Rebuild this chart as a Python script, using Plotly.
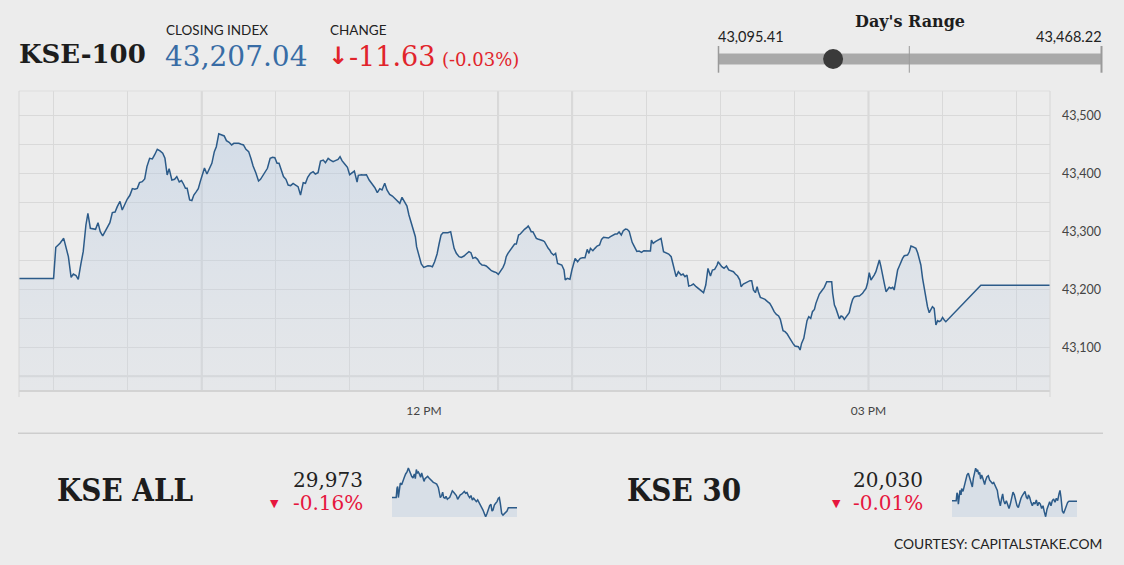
import datetime as dt
import plotly.graph_objects as go

W, H = 1124, 565
OPEN = dt.datetime(2019, 9, 18, 9, 30)   # session open (date not shown on chart)

# ---------------- data ----------------
# KSE-100 intraday: minutes after 09:30, index level
KSE100_MIN = [
    -14.0, 0.0, 0.9, 2.6, 4.1, 4.9, 6.0, 7.1, 8.0, 9.1,
    10.0, 11.1, 12.0, 13.1, 13.9, 14.9, 16.1, 17.0, 18.0, 18.9,
    19.9, 20.8, 21.9, 22.8, 23.8, 24.9, 25.8, 26.9, 27.8, 28.9,
    29.8, 30.9, 31.9, 32.9, 33.9, 34.8, 35.9, 36.9, 37.8, 38.9,
    40.0, 40.9, 42.0, 43.1, 44.2, 45.1, 46.0, 46.8, 47.9, 49.0,
    49.9, 50.9, 51.8, 52.6, 53.4, 54.1, 55.1, 56.0, 56.8, 57.8,
    58.6, 59.4, 60.3, 61.1, 62.1, 63.2, 64.1, 65.1, 65.9, 66.9,
    68.0, 69.1, 70.0, 71.1, 72.1, 73.0, 74.1, 75.0, 76.0, 76.9,
    77.9, 79.0, 79.9, 80.8, 81.9, 83.0, 83.8, 84.7, 85.7, 86.6,
    87.7, 88.7, 89.6, 90.5, 91.3, 92.3, 93.1,
    94.1, 95.0, 96.0, 97.0, 98.0, 99.0, 100.0, 101.1, 102.0, 102.9,
    104.0, 105.1, 106.0, 107.1, 108.1, 109.2, 110.1, 111.2, 112.1, 113.2,
    114.1, 115.2, 116.0, 116.8, 117.9, 119.0, 119.9, 121.0, 121.8, 122.9,
    123.4, 124.7, 125.3, 126.7, 127.8, 129.0, 130.1, 131.1, 132.1, 133.0,
    134.1, 135.0, 136.1, 137.2, 138.2, 139.2, 140.2, 141.1, 142.2, 143.1,
    143.9, 144.9, 145.8, 146.5, 147.0, 148.0, 148.9, 149.9, 150.7, 151.6,
    152.6, 153.4, 154.3, 155.3, 156.1, 156.9, 157.7, 158.8, 159.7, 160.8,
    161.5, 162.2, 163.1, 164.2, 165.1, 166.2, 167.1, 168.2, 169.0, 169.8,
    170.8, 171.7, 172.5, 173.5, 174.4, 175.2, 176.3, 177.3, 178.3, 179.3,
    180.1, 180.6, 181.3, 182.0, 182.7, 183.3, 184.0, 184.7, 185.6, 186.7,
    187.4, 187.9, 188.3, 189.0, 189.8, 190.7, 191.7, 192.2, 192.8, 193.4,
    194.1, 194.8, 195.5, 196.1, 196.8, 197.5, 198.2, 198.8, 199.5, 200.3,
    200.9,
    201.5, 202.5, 203.3, 204.1, 204.9, 205.8, 206.7, 207.2, 208.0, 209.1,
    209.9, 210.7, 211.2, 212.2, 213.3, 214.2, 215.2, 216.1, 216.8, 217.4,
    218.4, 219.2, 220.1, 221.1, 221.9, 222.7, 223.8, 224.7, 225.5, 226.5,
    227.4, 228.2, 229.0, 229.9, 230.7, 231.6, 232.3, 233.1, 233.8, 234.3,
    235.2, 236.2, 237.1, 238.1, 239.0, 240.0, 240.9, 241.7, 242.1, 242.8,
    243.7, 244.7, 245.4, 246.0, 247.0, 248.1, 249.1, 250.1, 250.6, 251.2,
    252.1, 253.0, 254.1, 254.9, 255.7, 256.5, 257.2, 258.2, 259.1, 260.2,
    261.1, 262.2, 263.2, 264.1, 265.0, 266.0, 266.8, 267.7, 268.7, 269.1,
    269.8, 270.6, 271.5, 272.5, 273.4, 274.4, 275.3, 276.1, 277.0, 277.9,
    278.4, 279.3, 280.3, 281.2, 282.0, 282.7, 283.4, 284.2, 284.9, 285.4,
    286.2, 287.2, 288.1, 289.1, 290.0, 290.8, 291.8, 292.7, 293.6, 294.3,
    294.9, 295.4, 296.2, 297.1, 297.9, 298.8, 299.4, 300.2, 300.9, 301.6,
    302.3, 302.9, 303.8, 304.4, 305.1, 305.8, 306.6, 307.3, 308.1,
    308.7, 309.4, 310.1, 310.8, 311.4, 312.1, 313.1, 314.1, 315.1, 315.5,
    316.2, 316.8, 317.5, 318.2, 318.9, 319.5, 320.2, 320.9, 321.6, 322.2,
    322.9, 323.6, 324.3, 324.9, 325.6, 326.3, 327.0, 327.6, 328.3, 329.0,
    329.6, 330.3, 331.0, 331.7, 332.3, 333.0, 333.7, 334.4, 335.0, 335.7,
    336.4, 337.1, 337.7, 338.4, 339.1, 339.8, 340.4, 341.1, 341.8, 342.5,
    343.1, 343.8, 344.5, 345.2, 345.8, 346.5, 347.2, 347.9, 348.5, 349.2,
    349.9, 350.6, 351.2, 351.9, 352.6, 353.2, 353.9, 354.6, 355.3, 355.9,
    356.6, 357.3, 358.0, 358.6, 359.3, 360.0, 360.7, 361.3, 375.5, 403.5,
]
KSE100_VAL = [
    43218.67, 43218.67, 43272.4, 43279.3, 43287.9, 43273.6, 43256.3, 43220.7, 43226.4, 43223.6,
    43217.3, 43244.8, 43264.9, 43310.9, 43331.0, 43305.2, 43304.0, 43303.5, 43314.9, 43299.4,
    43292.0, 43299.4, 43309.2, 43314.9, 43332.2, 43333.3, 43342.5, 43351.7, 43336.8, 43347.1,
    43355.2, 43362.1, 43373.6, 43372.4, 43374.1, 43383.9, 43385.6, 43390.2, 43411.5, 43425.9,
    43424.7, 43431.6, 43441.4, 43438.5, 43434.5, 43425.9, 43397.1, 43408.0, 43388.5, 43389.7,
    43394.3, 43385.1, 43387.4, 43381.6, 43374.1, 43374.1, 43354.0, 43352.9, 43362.6, 43368.4,
    43373.6, 43385.6, 43400.0, 43409.2, 43398.8, 43408.6, 43417.2, 43437.3, 43445.9, 43468.2,
    43466.1, 43464.4, 43456.3, 43453.4, 43448.9, 43451.7, 43451.7, 43451.7, 43450.0, 43448.9,
    43441.4, 43437.4, 43425.9, 43412.6, 43401.1, 43386.8, 43389.7, 43395.4, 43401.1, 43408.6,
    43425.9, 43427.6, 43427.0, 43417.2, 43417.2, 43405.7, 43394.3,
    43389.6, 43379.8, 43378.7, 43382.7, 43379.8, 43377.0, 43362.6, 43383.8, 43382.7, 43393.0,
    43399.9, 43402.8, 43398.8, 43401.1, 43421.2, 43422.9, 43418.3, 43425.8, 43422.9, 43420.0,
    43421.8, 43424.1, 43428.7, 43421.8, 43416.0, 43410.3, 43397.6, 43401.1, 43403.9, 43385.0,
    43396.5, 43397.6, 43397.1, 43397.6, 43388.4, 43381.5, 43375.2, 43366.6, 43373.5, 43371.2,
    43382.7, 43371.2, 43363.7, 43360.8, 43356.8, 43352.8, 43348.2, 43358.5, 43351.1, 43343.6,
    43328.1, 43313.7, 43303.4, 43290.7, 43273.5, 43259.1, 43243.6, 43237.9, 43239.0, 43240.7,
    43240.2, 43239.0, 43247.6, 43260.9, 43278.1, 43293.6, 43297.6, 43297.6, 43297.6, 43299.4,
    43285.0, 43270.6, 43262.0, 43256.3, 43255.1, 43257.4, 43260.9, 43264.9, 43263.1, 43253.4,
    43255.1, 43251.7, 43245.9, 43241.9, 43241.3, 43240.2, 43236.1, 43232.1, 43230.4, 43228.7,
    43225.8, 43228.7, 43233.3, 43237.9, 43244.8, 43256.3, 43262.0, 43266.6, 43272.4, 43278.1,
    43278.1, 43285.0, 43293.6, 43295.3, 43299.4, 43303.4, 43306.8, 43309.1, 43305.1, 43299.4,
    43299.4, 43293.6, 43287.9, 43286.7, 43286.1, 43285.0, 43283.8, 43282.1, 43276.4, 43270.6,
    43267.8,
    43263.1, 43259.1, 43262.0, 43244.7, 43243.6, 43241.9, 43233.3, 43216.0, 43218.9, 43217.2,
    43233.3, 43245.9, 43253.4, 43247.6, 43253.4, 43254.5, 43254.5, 43268.9, 43262.0, 43270.6,
    43266.6, 43270.6, 43274.6, 43276.4, 43286.1, 43289.6, 43289.6, 43288.4, 43290.7, 43293.6,
    43295.3, 43295.3, 43298.8, 43293.6, 43301.1, 43303.9, 43303.4, 43299.9, 43290.7, 43281.0,
    43273.5, 43265.4, 43266.0, 43263.7, 43266.6, 43266.6, 43266.6, 43266.0, 43285.0, 43279.2,
    43282.1, 43285.0, 43286.7, 43287.9, 43264.9, 43262.0, 43260.8, 43256.2, 43247.6, 43234.4,
    43221.8, 43230.4, 43224.6, 43226.4, 43221.8, 43224.6, 43205.7, 43206.8, 43209.1, 43204.5,
    43201.6, 43198.8, 43194.2, 43207.4, 43236.1, 43222.9, 43233.3, 43234.4, 43241.9, 43247.6,
    43243.6, 43239.0, 43236.1, 43240.1, 43233.3, 43231.5, 43230.4, 43226.4, 43222.9, 43216.0,
    43204.5, 43209.1, 43211.4, 43213.1, 43214.9, 43214.9, 43198.8, 43194.2, 43204.5, 43195.9,
    43186.1, 43184.4, 43182.7, 43178.7, 43175.8, 43170.0, 43161.4, 43156.8, 43154.0, 43148.2,
    43138.4, 43128.7, 43126.9, 43122.9, 43117.2, 43109.7, 43106.8, 43102.3, 43102.3, 43101.1,
    43095.4, 43106.8, 43115.4, 43126.9, 43145.9, 43152.8, 43149.9, 43161.4, 43165.4,
    43175.8, 43184.4, 43191.9, 43195.9, 43198.8, 43203.4, 43213.1, 43213.1, 43213.1, 43193.0,
    43172.9, 43167.1, 43158.5, 43149.3, 43153.9, 43152.8, 43148.2, 43151.6, 43155.7, 43159.7,
    43172.9, 43182.7, 43187.3, 43188.4, 43188.4, 43188.4, 43190.1, 43193.0, 43197.6, 43201.6,
    43210.3, 43228.6, 43216.0, 43220.0, 43224.6, 43230.4, 43239.0, 43250.5, 43240.1, 43227.5,
    43210.3, 43195.9, 43199.9, 43203.4, 43201.6, 43203.4, 43198.8, 43217.1, 43233.2, 43240.1,
    43247.6, 43253.4, 43257.9, 43257.9, 43259.1, 43264.3, 43274.6, 43273.5, 43272.3, 43270.6,
    43263.1, 43253.4, 43241.9, 43218.9, 43198.8, 43184.4, 43170.0, 43159.7, 43164.3, 43170.0,
    43167.1, 43138.4, 43145.9, 43144.2, 43145.9, 43151.6, 43147.0, 43144.2, 43207.04, 43207.04,
]

KSE_ALL_MIN = [
    -14.0, 0.0, 2.7, 4.9, 7.2, 10.5, 13.8, 18.3, 22.7, 27.2,
    31.6, 36.1, 40.6, 43.9, 47.2, 51.7, 56.1, 60.6, 63.9, 67.3,
    70.6, 74.0, 78.4, 81.7, 85.1, 89.5, 92.9, 96.2, 100.7, 105.1,
    109.6, 114.0, 118.5, 124.0, 129.6, 135.2, 140.7, 144.1, 147.4, 151.9,
    155.2, 158.6, 163.0, 166.4, 170.8, 174.1, 178.6, 183.1, 187.5, 192.0,
    196.4, 200.9, 205.3, 209.8, 214.2, 218.7, 223.1, 227.6, 232.0, 236.5,
    240.9, 245.4, 249.8, 254.3, 258.8, 263.2, 267.7, 272.1, 276.6, 281.0,
    285.5, 289.9, 294.4, 298.8, 303.3, 307.7, 312.2, 316.6, 320.0, 323.3,
    327.8, 332.2, 336.7, 341.1, 344.5, 347.8, 352.3, 356.7, 361.2, 365.6,
    370.1, 374.5, 403.5,
]
KSE_ALL_VAL = [
    30021, 30021, 30065.8, 30073.8, 30021, 30065.8, 30089.8, 30081.8, 30105.8, 30117,
    30133, 30142.6, 30161.8, 30149, 30137.8, 30121.8, 30113.8, 30133, 30110.6, 30153.8,
    30137.8, 30142.6, 30129.8, 30117, 30137.8, 30110.6, 30097.8, 30110.6, 30117, 30121.8,
    30113.8, 30105.8, 30101, 30093, 30089.8, 30085, 30069, 30033.8, 30021, 30030.6,
    30046.6, 30021, 30017.8, 30027.4, 30013, 30017.8, 30021, 30037, 30053, 30046.6,
    30037, 30030.6, 30013, 30025.8, 30033.8, 30037, 30045, 30049.8, 30041.8, 30045,
    30030.6, 30021, 30030.6, 30009.8, 30017.8, 30006.6, 30001.8, 30009.8, 29998.6, 29989,
    29977.8, 29961.8, 29945.8, 29929.8, 29945.8, 29969.8, 29982.6, 29989, 29957, 29961.8,
    29985.8, 29993.8, 30001.8, 30017.8, 30021, 29993.8, 29945.8, 29937.8, 29944.2, 29953.8,
    29957, 29973, 29973,
]

KSE30_MIN = [
    -14.0, 0.0, 2.7, 4.9, 7.2, 9.4, 12.7, 16.1, 18.3, 22.7,
    27.2, 31.6, 36.1, 40.6, 45.0, 49.5, 53.9, 57.3, 60.6, 65.0,
    68.4, 71.7, 75.1, 78.4, 81.7, 85.1, 88.4, 91.8, 95.1, 98.4,
    102.9, 107.3, 111.8, 116.3, 120.7, 125.2, 129.6, 134.1, 137.4, 140.7,
    144.1, 147.4, 151.9, 155.2, 158.6, 163.0, 167.5, 171.9, 176.4, 180.8,
    185.3, 189.7, 194.2, 198.6, 203.1, 207.5, 212.0, 216.5, 220.9, 225.4,
    229.8, 234.3, 238.7, 241.0, 245.4, 249.9, 254.3, 258.8, 263.2, 267.7,
    272.1, 276.6, 281.0, 285.5, 289.9, 294.4, 298.8, 303.3, 307.7, 312.2,
    316.6, 321.1, 325.6, 330.0, 334.5, 338.9, 343.4, 346.7, 350.0, 354.5,
    359.0, 363.4, 367.9, 372.3, 376.8, 403.5,
]
KSE30_VAL = [
    20032, 20032, 20061.2, 20053.6, 20019.3, 20040.9, 20070.1, 20053.6, 20076.5, 20066.3,
    20086.6, 20101.9, 20127.3, 20133.6, 20117.1, 20095.5, 20082.8, 20114.6, 20129.8, 20152.7,
    20142.5, 20146.3, 20129.8, 20137.4, 20112.0, 20127.3, 20117.1, 20101.9, 20091.7, 20108.2,
    20120.9, 20124.7, 20108.2, 20101.9, 20095.5, 20099.3, 20089.2, 20082.8, 20070.1, 20044.7,
    20025.7, 20013.0, 20040.9, 20057.4, 20032.0, 20019.3, 20032.0, 20013.0, 20002.8, 20019.3,
    20044.7, 20063.8, 20053.6, 20032.0, 20013.0, 20006.6, 20025.7, 20040.9, 20051.1, 20057.4,
    20066.3, 20044.7, 20038.4, 20053.6, 20044.7, 20025.7, 20013.0, 20025.7, 20019.3, 20034.5,
    20013.0, 20025.7, 20019.3, 20002.8, 20013.0, 19990.1, 19972.3, 20000.3, 20019.3, 20028.2,
    20013.0, 20032.0, 20038.4, 20025.7, 20040.9, 20032.0, 20057.4, 20070.1, 20044.7, 19993.9,
    19985.0, 20000.3, 20013.0, 20025.7, 20030, 20030,
]

CLOSE, CHANGE, CHANGE_PCT = 43207.04, -11.63, -0.03
DAY_LOW, DAY_HIGH = 43095.41, 43468.22
KSE_ALL_CLOSE, KSE_ALL_PCT = 29973, -0.16
KSE30_CLOSE, KSE30_PCT = 20030, -0.01
X_LABELS = {150: "12 PM", 330: "03 PM"}          # minutes after open -> label
STRONG_GRID_MIN = [60, 180, 210, 330]            # heavier vertical grid lines

# ---------------- helpers ----------------
def times(mins):
    return [OPEN + dt.timedelta(minutes=float(m)) for m in mins]

def px(x):
    return x / W

def py(y):
    return 1 - y / H

SERIF = "DejaVu Serif"
SERIF_COND = "DejaVu Serif Condensed, DejaVu Serif"
SANS = "Lato"
BLUE_LINE = "#2c5b89"
RED = "#e1242b"
CRIMSON = "#e6163d"
GRID = "#d9d9d9"

n = min(len(KSE100_MIN), len(KSE100_VAL))
t_main = times(KSE100_MIN[:n])
x_range = [t_main[0], t_main[-1]]

fig = go.Figure()

# main area chart
fig.add_trace(go.Scatter(
    x=t_main, y=KSE100_VAL[:n], mode="lines",
    line=dict(color=BLUE_LINE, width=1.5),
    fill="tozeroy",
    fillgradient=dict(type="vertical",
                      colorscale=[[0, "rgba(205,214,226,0.22)"], [1, "rgba(170,195,225,0.38)"]],
                      start=43026, stop=43470),
    hoverinfo="skip", xaxis="x", yaxis="y"))

# sparklines
for mins, vals, xa, ya in [(KSE_ALL_MIN, KSE_ALL_VAL, "x2", "y2"),
                           (KSE30_MIN, KSE30_VAL, "x3", "y3")]:
    m = min(len(mins), len(vals))
    fig.add_trace(go.Scatter(
        x=times(mins[:m]), y=vals[:m], mode="lines",
        line=dict(color=BLUE_LINE, width=1.5),
        fill="tozeroy", fillcolor="rgba(175,195,222,0.32)",
        hoverinfo="skip", xaxis=xa, yaxis=ya))

# day's range bar + marker
fig.add_trace(go.Scatter(x=[DAY_LOW, DAY_HIGH], y=[0, 0], mode="lines",
                         line=dict(color="#a9a9a9", width=11), hoverinfo="skip",
                         xaxis="x4", yaxis="y4", cliponaxis=False))
fig.add_trace(go.Scatter(x=[CLOSE], y=[0], mode="markers",
                         marker=dict(color="#3a3a3a", size=20), hoverinfo="skip",
                         xaxis="x4", yaxis="y4", cliponaxis=False))

tick_mins = list(range(0, 391, 30))
fig.update_layout(
    width=W, height=H, margin=dict(l=0, r=0, t=0, b=0),
    paper_bgcolor="#ececec", plot_bgcolor="rgba(0,0,0,0)",
    showlegend=False,
    xaxis=dict(domain=[px(19), px(1050)], type="date", range=x_range,
               tickmode="array", tickvals=times(tick_mins),
               ticktext=[X_LABELS.get(m, "") for m in tick_mins],
               showgrid=True, gridcolor=GRID, gridwidth=1, zeroline=False,
               showline=True, linecolor="#d3d3d3", linewidth=2,
               ticks="", ticklabelstandoff=9,
               tickfont=dict(family=SANS, size=12, color="#444"),
               anchor="y", fixedrange=True),
    yaxis=dict(domain=[py(390), py(91)], range=[43026.4, 43541.9], side="right",
               tickmode="linear", tick0=43000, dtick=100, tickformat=",",
               showgrid=True, gridcolor=GRID, gridwidth=1, zeroline=False,
               minor=dict(tick0=43000, dtick=50, showgrid=True, gridcolor=GRID, gridwidth=1),
               ticks="", ticklabelstandoff=11,
               tickfont=dict(family=SANS, size=12.5, color="#444"),
               anchor="x", fixedrange=True),
    xaxis2=dict(domain=[px(392), px(517)], type="date", range=x_range, visible=False, anchor="y2"),
    yaxis2=dict(domain=[py(517), py(466)], range=[min(KSE_ALL_VAL) - 1, max(KSE_ALL_VAL) + 9],
                visible=False, anchor="x2"),
    xaxis3=dict(domain=[px(952), px(1077)], type="date", range=x_range, visible=False, anchor="y3"),
    yaxis3=dict(domain=[py(517), py(466)], range=[min(KSE30_VAL) - 1, max(KSE30_VAL) + 8],
                visible=False, anchor="x3"),
    xaxis4=dict(domain=[px(718.3), px(1101.7)], range=[DAY_LOW, DAY_HIGH], visible=False, anchor="y4"),
    yaxis4=dict(domain=[py(72), py(46)], range=[-1, 1], visible=False, anchor="x4"),
)

shapes = []
for m in STRONG_GRID_MIN:
    t = OPEN + dt.timedelta(minutes=m)
    shapes.append(dict(type="line", xref="x", yref="paper", x0=t, x1=t, y0=py(390), y1=py(91),
                       line=dict(color="#d6d6d6", width=2), layer="below"))
shapes += [
    dict(type="line", xref="paper", yref="y", x0=px(19), x1=px(1050), y0=43050, y1=43050,
         line=dict(color="#d6d6d6", width=2), layer="below"),
    dict(type="line", xref="paper", yref="paper", x0=px(19), x1=px(1050), y0=py(91), y1=py(91),
         line=dict(color="#dedede", width=1)),
    dict(type="line", xref="paper", yref="paper", x0=px(19), x1=px(19), y0=py(397), y1=py(91),
         line=dict(color="#d6d6d6", width=1)),
    dict(type="line", xref="paper", yref="paper", x0=px(1050), x1=px(1050), y0=py(397), y1=py(91),
         line=dict(color="#d6d6d6", width=1)),
    dict(type="line", xref="paper", yref="paper", x0=px(18), x1=px(1103), y0=py(433.3), y1=py(433.3),
         line=dict(color="#cdcdcd", width=1.5)),
    dict(type="line", xref="paper", yref="paper", x0=px(718.5), x1=px(718.5), y0=py(72.7), y1=py(46),
         line=dict(color="#9a9a9a", width=1.5)),
    dict(type="line", xref="paper", yref="paper", x0=px(909.3), x1=px(909.3), y0=py(72.7), y1=py(46),
         line=dict(color="#9a9a9a", width=1)),
    dict(type="line", xref="paper", yref="paper", x0=px(1101.5), x1=px(1101.5), y0=py(72.7), y1=py(46),
         line=dict(color="#9a9a9a", width=2)),
]
fig.update_layout(shapes=shapes)


def txt(s, x, y, size, color, family, xanchor="left", weight="normal"):
    return dict(text=s, x=px(x), y=py(y), xref="paper", yref="paper",
                xanchor=xanchor, yanchor="middle", showarrow=False,
                font=dict(size=size, color=color, family=family, weight=weight))


ann = [
    txt("KSE-100", 17, 54, 26, "#1d1d1d", SERIF, weight="bold"),
    txt("CLOSING INDEX", 164, 30, 13.5, "#222", SANS),
    txt(f"{CLOSE:,.2f}", 163, 57, 28, "#386ca5", SERIF),
    txt("CHANGE", 328, 30, 13.5, "#222", SANS),
    txt("↓", 326, 56, 24, RED, "DejaVu Sans", weight="bold"),
    txt(f"{CHANGE:.2f}", 347, 57, 27, RED, SERIF),
    txt(f"({CHANGE_PCT:.2f}%)", 440, 60, 18, RED, SERIF),
    txt("Day's Range", 910, 21, 16, "#1d1d1d", SERIF, xanchor="center", weight="bold"),
    txt(f"{DAY_LOW:,.2f}", 716, 36, 14.5, "#222", SANS),
    txt(f"{DAY_HIGH:,.2f}", 1104, 36, 14.5, "#222", SANS, xanchor="right"),
    txt("KSE ALL", 55, 490, 31, "#1d1d1d", SERIF_COND, weight="bold"),
    txt(f"{KSE_ALL_CLOSE:,}", 365, 480, 20, "#222", SERIF, xanchor="right"),
    txt(f"{KSE_ALL_PCT:.2f}%", 365, 503, 20, CRIMSON, SERIF, xanchor="right"),
    txt("▼", 274.5, 503.5, 11, CRIMSON, "DejaVu Sans", xanchor="center"),
    txt("KSE 30", 625, 490, 31, "#1d1d1d", SERIF_COND, weight="bold"),
    txt(f"{KSE30_CLOSE:,}", 925, 480, 20, "#222", SERIF, xanchor="right"),
    txt(f"{KSE30_PCT:.2f}%", 925, 503, 20, CRIMSON, SERIF, xanchor="right"),
    txt("▼", 836, 503.5, 11, CRIMSON, "DejaVu Sans", xanchor="center"),
    txt("COURTESY: CAPITALSTAKE.COM", 1104, 543, 13.8, "#222", SANS, xanchor="right"),
]
fig.update_layout(annotations=ann)

fig.write_html("out.html", config={"displayModeBar": False})
